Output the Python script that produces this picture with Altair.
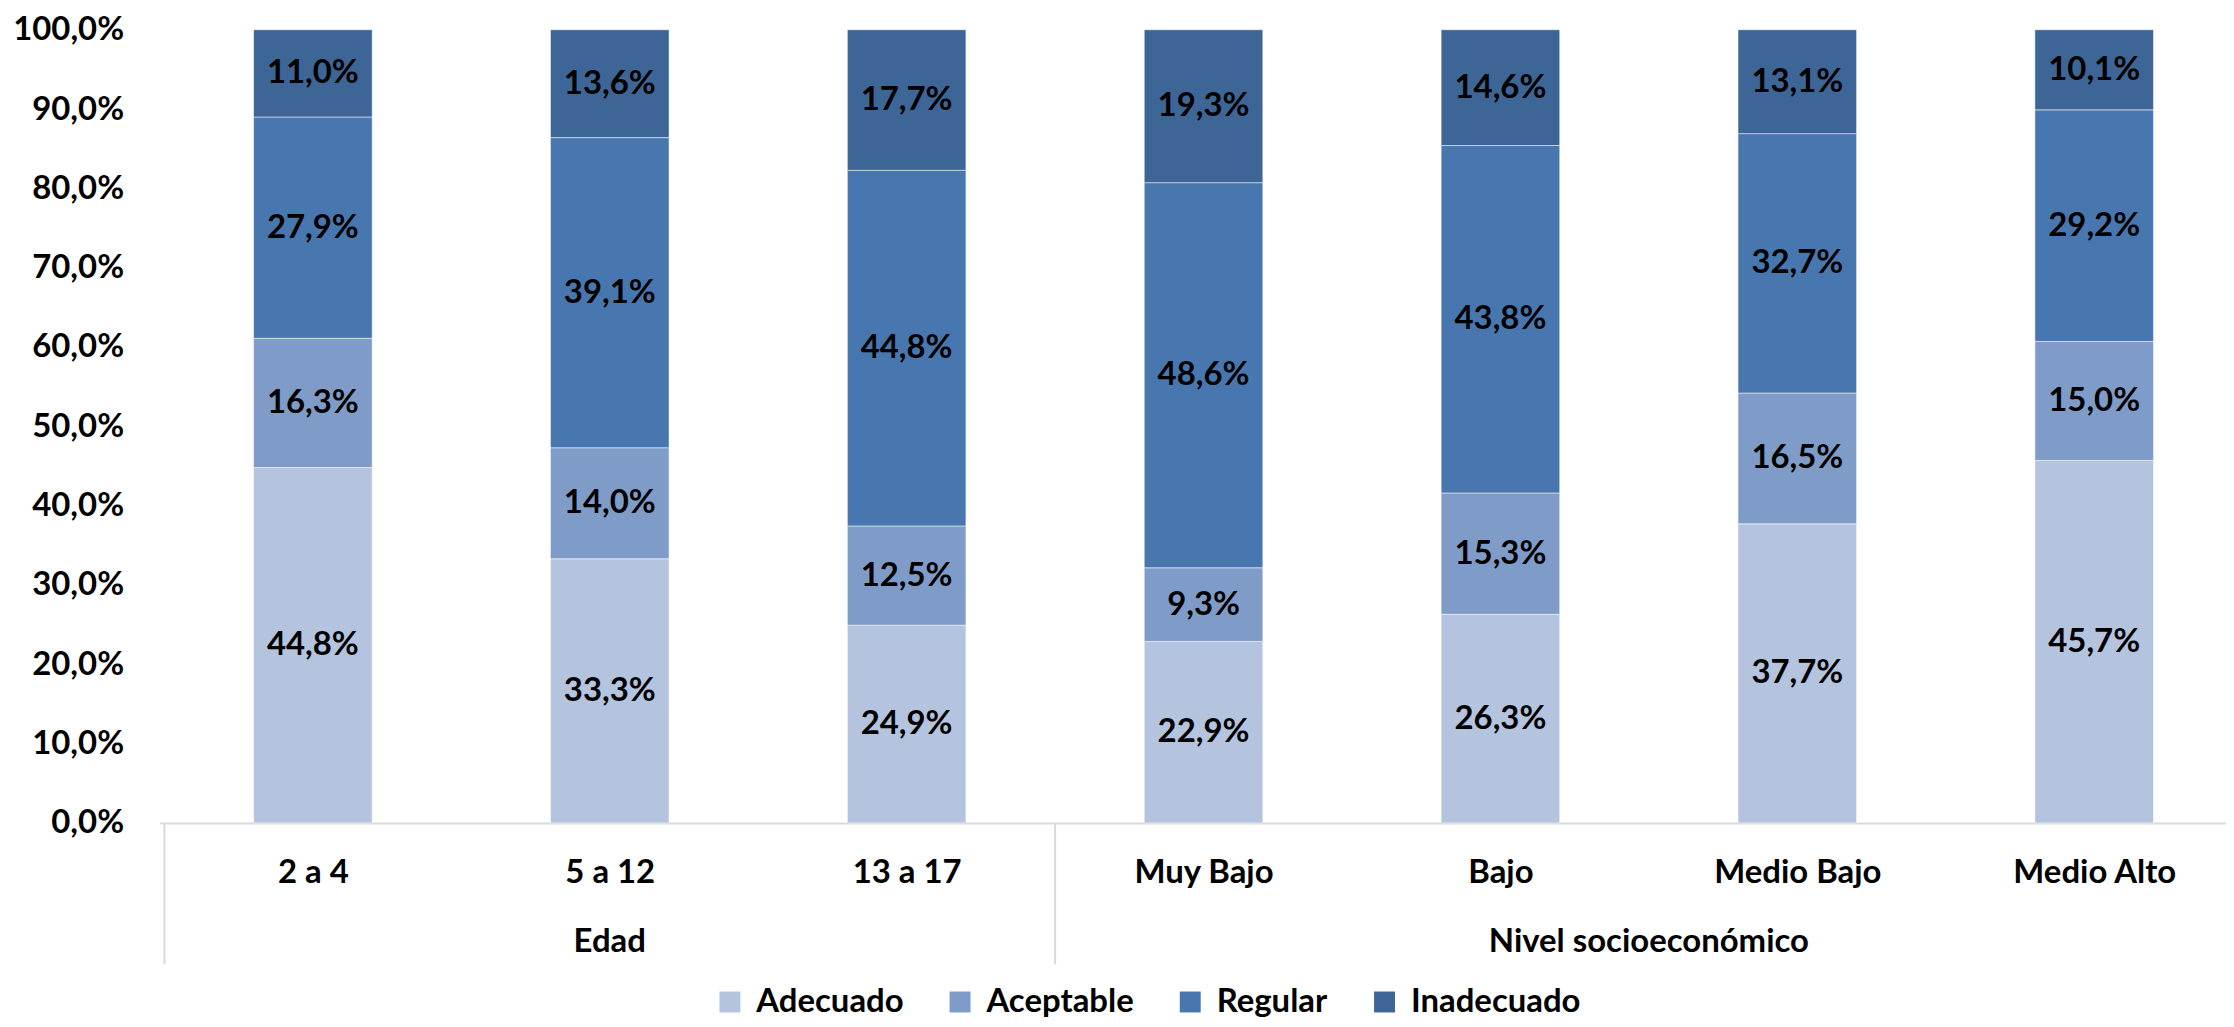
import altair as alt
import pandas as pd

categories = ["2 a 4", "5 a 12", "13 a 17", "Muy Bajo", "Bajo", "Medio Bajo", "Medio Alto"]
group_names = ["Edad", "Nivel socioeconómico"]
group_sizes = [3, 4]
series = ["Adecuado", "Aceptable", "Regular", "Inadecuado"]
adecuado = [44.8, 33.3, 24.9, 22.9, 26.3, 37.7, 45.7]
aceptable = [16.3, 14.0, 12.5, 9.3, 15.3, 16.5, 15.0]
regular = [27.9, 39.1, 44.8, 48.6, 43.8, 32.7, 29.2]
inadecuado = [11.0, 13.6, 17.7, 19.3, 14.6, 13.1, 10.1]
colors = ["#B4C3DE", "#7F9CC8", "#4877AF", "#3D6595"]

values_by_series = [adecuado, aceptable, regular, inadecuado]
rows = []
for s_i, (s, vals) in enumerate(zip(series, values_by_series)):
    for c_i, (c, v) in enumerate(zip(categories, vals)):
        rows.append({"cat": c, "pos": c_i + 0.5, "serie": s, "orden": s_i, "valor": v})
df = pd.DataFrame(rows)

sep_rows = []
grp_rows = []
start = 0
for g, n in zip(group_names, group_sizes):
    sep_rows.append({"pos": start})
    grp_rows.append({"pos": start + n / 2, "grupo": g})
    start += n
df_sep = pd.DataFrame(sep_rows)
df_grp = pd.DataFrame(grp_rows)

FONT = "Lato"
FS = 33
BAND = 299.4
W = 2074
H = 796
xmax = W / BAND

x_scale = alt.Scale(domain=[0, xmax], nice=False, zero=False)
label_js = "[" + ",".join("'" + c + "'" for c in categories) + "][floor(datum.value)]"

x_enc = alt.X(
    "pos:Q",
    scale=x_scale,
    axis=alt.Axis(
        values=[i + 0.5 for i in range(len(categories))],
        labelExpr=label_js,
        title=None,
        grid=False,
        ticks=False,
        tickSize=0,
        domainColor="#D9D9D9",
        domainWidth=2,
        labelFont=FONT,
        labelFontSize=FS,
        labelFontWeight="bold",
        labelColor="#000000",
        labelBaseline="alphabetic",
        labelPadding=60,
        labelFlush=False,
        labelOverlap=False,
    ),
)

base = alt.Chart(df).transform_stack(
    stack="valor",
    groupby=["cat"],
    as_=["y0", "y1"],
    offset="normalize",
    sort=[alt.SortField("orden", order="ascending")],
)

bars = base.mark_bar(size=119, stroke="#FFFFFF", strokeWidth=1, strokeOpacity=0.5).encode(
    x=x_enc,
    y=alt.Y(
        "y0:Q",
        scale=alt.Scale(domain=[0, 1], nice=False),
        axis=alt.Axis(
            values=[i / 10 for i in range(11)],
            labelExpr="replace(format(datum.value, '.1%'), '.', ',')",
            title=None,
            grid=False,
            ticks=False,
            tickSize=0,
            domain=False,
            labelFont=FONT,
            labelFontSize=FS,
            labelFontWeight="bold",
            labelColor="#000000",
            labelPadding=36,
        ),
    ),
    y2="y1:Q",
    color=alt.Color(
        "serie:N",
        scale=alt.Scale(domain=series, range=colors),
        legend=alt.Legend(
            title=None,
            orient="none",
            legendX=556,
            legendY=959,
            direction="horizontal",
            symbolType="square",
            symbolSize=441,
            symbolStrokeWidth=0,
            labelFont=FONT,
            labelFontSize=FS,
            labelFontWeight="bold",
            labelColor="#000000",
            labelOffset=10,
            columnPadding=40,
            labelLimit=400,
        ),
    ),
)

texts = base.transform_calculate(
    mid="(datum.y0 + datum.y1) / 2",
    etiqueta="replace(format(datum.valor / 100, '.1%'), '.', ',')",
).mark_text(font=FONT, fontSize=FS, fontWeight="bold", color="#000000", baseline="middle").encode(
    x=alt.X("pos:Q", scale=x_scale),
    y=alt.Y("mid:Q"),
    text="etiqueta:N",
)

seps = alt.Chart(df_sep).mark_rule(color="#D9D9D9", strokeWidth=2).encode(
    x=alt.X("pos:Q", scale=x_scale),
    y=alt.value(H),
    y2=alt.value(H + 142),
)

grp = alt.Chart(df_grp).mark_text(
    font=FONT, fontSize=FS, fontWeight="bold", color="#000000", baseline="alphabetic"
).encode(
    x=alt.X("pos:Q", scale=x_scale),
    y=alt.value(H + 130),
    text="grupo:N",
)

chart = alt.layer(bars, texts, seps, grp).properties(
    width=W,
    height=H,
    autosize=alt.AutoSizeParams(type="none"),
    padding={"left": 152, "top": 20, "right": 0, "bottom": 195},
).configure_view(stroke=None)

chart.save("out.html", embed_options={"renderer": "svg", "actions": False})
